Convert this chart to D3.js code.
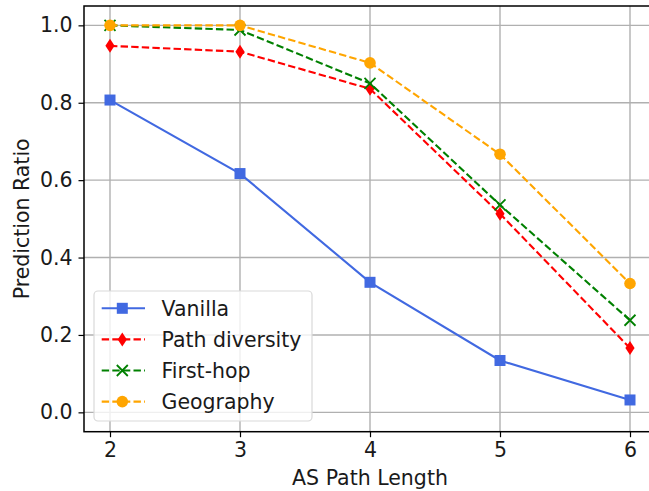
<!DOCTYPE html>
<html>
<head>
<meta charset="utf-8">
<script src="https://cdn.jsdelivr.net/npm/d3@7"></script>
<style>
    body { margin: 0; background: #ffffff; }
    svg { display: block; font-family: "DejaVu Sans", sans-serif; }
</style>
</head>
<body>
<div id="line-chart"></div>
<script>
let path_lengths = [2, 3, 4, 5, 6];
let x_ticks = [2, 3, 4, 5, 6];
let y_ticks = [0.0, 0.2, 0.4, 0.6, 0.8, 1.0];

let series_names = ["Vanilla", "Path diversity", "First-hop", "Geography"];
let vanilla_values = [0.807, 0.617, 0.336, 0.134, 0.032];
let path_diversity_values = [0.947, 0.932, 0.836, 0.513, 0.166];
let first_hop_values = [1.0, 0.988, 0.850, 0.536, 0.238];
let geography_values = [1.0, 1.0, 0.903, 0.667, 0.333];

let width_chart = 649;
let height_chart = 491;
let margin_chart = {top: 6, bottom: 59.3, left: 84, right: -7};
let font_size_chart = 20.5;

let series_list = [
    {name: series_names[0], values: vanilla_values, color: "#4169e1", dash: null, marker: "square"},
    {name: series_names[1], values: path_diversity_values, color: "#ff0000", dash: "7.4,3.2", marker: "diamond"},
    {name: series_names[2], values: first_hop_values, color: "#008000", dash: "7.4,3.2", marker: "x"},
    {name: series_names[3], values: geography_values, color: "#ffa500", dash: "7.4,3.2", marker: "circle"}
];

let svg_chart = d3.select("#line-chart")
    .append("svg")
    .attr("width", width_chart)
    .attr("height", height_chart);

let xScale_chart = d3.scaleLinear().domain([1.8, 6.2])
    .range([margin_chart.left, width_chart - margin_chart.right]);
let yScale_chart = d3.scaleLinear().domain([-0.05, 1.05])
    .range([height_chart - margin_chart.bottom, margin_chart.top]);

// grid
let grid_group = svg_chart.append("g").attr("id", "grid");
grid_group.selectAll(".xGrid")
    .data(x_ticks)
    .join("line")
    .attr("class", "xGrid")
    .attr("x1", d => xScale_chart(d)).attr("x2", d => xScale_chart(d))
    .attr("y1", margin_chart.top).attr("y2", height_chart - margin_chart.bottom)
    .attr("stroke", "#b0b0b0").attr("stroke-width", 1.4);
grid_group.selectAll(".yGrid")
    .data(y_ticks)
    .join("line")
    .attr("class", "yGrid")
    .attr("x1", margin_chart.left).attr("x2", width_chart - margin_chart.right)
    .attr("y1", d => yScale_chart(d)).attr("y2", d => yScale_chart(d))
    .attr("stroke", "#b0b0b0").attr("stroke-width", 1.4);

// axes
let xAxis_chart = d3.axisBottom(xScale_chart).tickValues(x_ticks).tickFormat(d3.format("d"))
    .tickSize(5.5).tickPadding(5.5);
let yAxis_chart = d3.axisLeft(yScale_chart).tickValues(y_ticks).tickFormat(d3.format(".1f"))
    .tickSize(5.5).tickPadding(6);

svg_chart.append("g")
    .attr("class", "xTicks")
    .attr("transform", "translate(0," + (height_chart - margin_chart.bottom) + ")")
    .call(xAxis_chart);
svg_chart.append("g")
    .attr("class", "yTicks")
    .attr("transform", "translate(" + margin_chart.left + ",0)")
    .call(yAxis_chart);

svg_chart.selectAll(".xTicks .domain, .yTicks .domain").remove();
svg_chart.selectAll(".xTicks text, .yTicks text")
    .attr("font-family", "DejaVu Sans, sans-serif")
    .attr("font-size", font_size_chart)
    .attr("fill", "#1a1a1a");
svg_chart.selectAll(".xTicks line, .yTicks line").attr("stroke", "#000").attr("stroke-width", 1.2);

// spines
svg_chart.append("rect")
    .attr("x", margin_chart.left)
    .attr("y", margin_chart.top)
    .attr("width", width_chart - margin_chart.right - margin_chart.left)
    .attr("height", height_chart - margin_chart.bottom - margin_chart.top)
    .attr("fill", "none")
    .attr("stroke", "#000")
    .attr("stroke-width", 1.5);

// labels
svg_chart.append("text")
    .attr("x", (margin_chart.left + width_chart - margin_chart.right) / 2)
    .attr("y", 485)
    .attr("text-anchor", "middle")
    .attr("font-size", font_size_chart)
    .attr("fill", "#1a1a1a")
    .text("AS Path Length");
svg_chart.append("text")
    .attr("transform", "translate(28.5," + ((margin_chart.top + height_chart - margin_chart.bottom) / 2) + ") rotate(-90)")
    .attr("text-anchor", "middle")
    .attr("font-size", font_size_chart)
    .attr("fill", "#1a1a1a")
    .text("Prediction Ratio");

function draw_marker(sel, marker, color) {
    if (marker === "square") {
        sel.append("rect").attr("x", -5.5).attr("y", -5.5).attr("width", 11).attr("height", 11).attr("fill", color);
    } else if (marker === "diamond") {
        sel.append("path").attr("d", "M0,-7L4.6,0L0,7L-4.6,0Z").attr("fill", color);
    } else if (marker === "x") {
        sel.append("path").attr("d", "M-5.5,-5.5L5.5,5.5M-5.5,5.5L5.5,-5.5").attr("stroke", color).attr("stroke-width", 1.8).attr("fill", "none");
    } else {
        sel.append("circle").attr("r", 5.8).attr("fill", color);
    }
}

let line_gen = d3.line()
    .x((d, i) => xScale_chart(path_lengths[i]))
    .y(d => yScale_chart(d));

let lines_group = svg_chart.append("g").attr("id", "lines_in_chart");
series_list.forEach((s) => {
    lines_group.append("path")
        .attr("d", line_gen(s.values))
        .attr("fill", "none")
        .attr("stroke", s.color)
        .attr("stroke-width", 2.1)
        .attr("stroke-dasharray", s.dash);
    s.values.forEach((v, i) => {
        let g = lines_group.append("g")
            .attr("transform", "translate(" + xScale_chart(path_lengths[i]) + "," + yScale_chart(v) + ")");
        draw_marker(g, s.marker, s.color);
    });
});

// legend
let legend_group = svg_chart.append("g").attr("id", "legend");
legend_group.append("rect")
    .attr("x", 94).attr("y", 291)
    .attr("width", 218).attr("height", 130)
    .attr("rx", 4)
    .attr("fill", "#ffffff").attr("fill-opacity", 0.8)
    .attr("stroke", "#d9d9d9").attr("stroke-width", 1.2);

series_list.forEach((s, i) => {
    let row_y = 308.3 + i * 31.1;
    legend_group.append("line")
        .attr("x1", 101.7).attr("x2", 145)
        .attr("y1", row_y).attr("y2", row_y)
        .attr("stroke", s.color).attr("stroke-width", 2.1)
        .attr("stroke-dasharray", s.dash);
    let g = legend_group.append("g").attr("transform", "translate(122.3," + row_y + ")");
    draw_marker(g, s.marker, s.color);
    legend_group.append("text")
        .attr("x", 161.5).attr("y", row_y + 7.4)
        .attr("font-size", font_size_chart)
        .attr("fill", "#1a1a1a")
        .text(s.name);
});
</script>
</body>
</html>
